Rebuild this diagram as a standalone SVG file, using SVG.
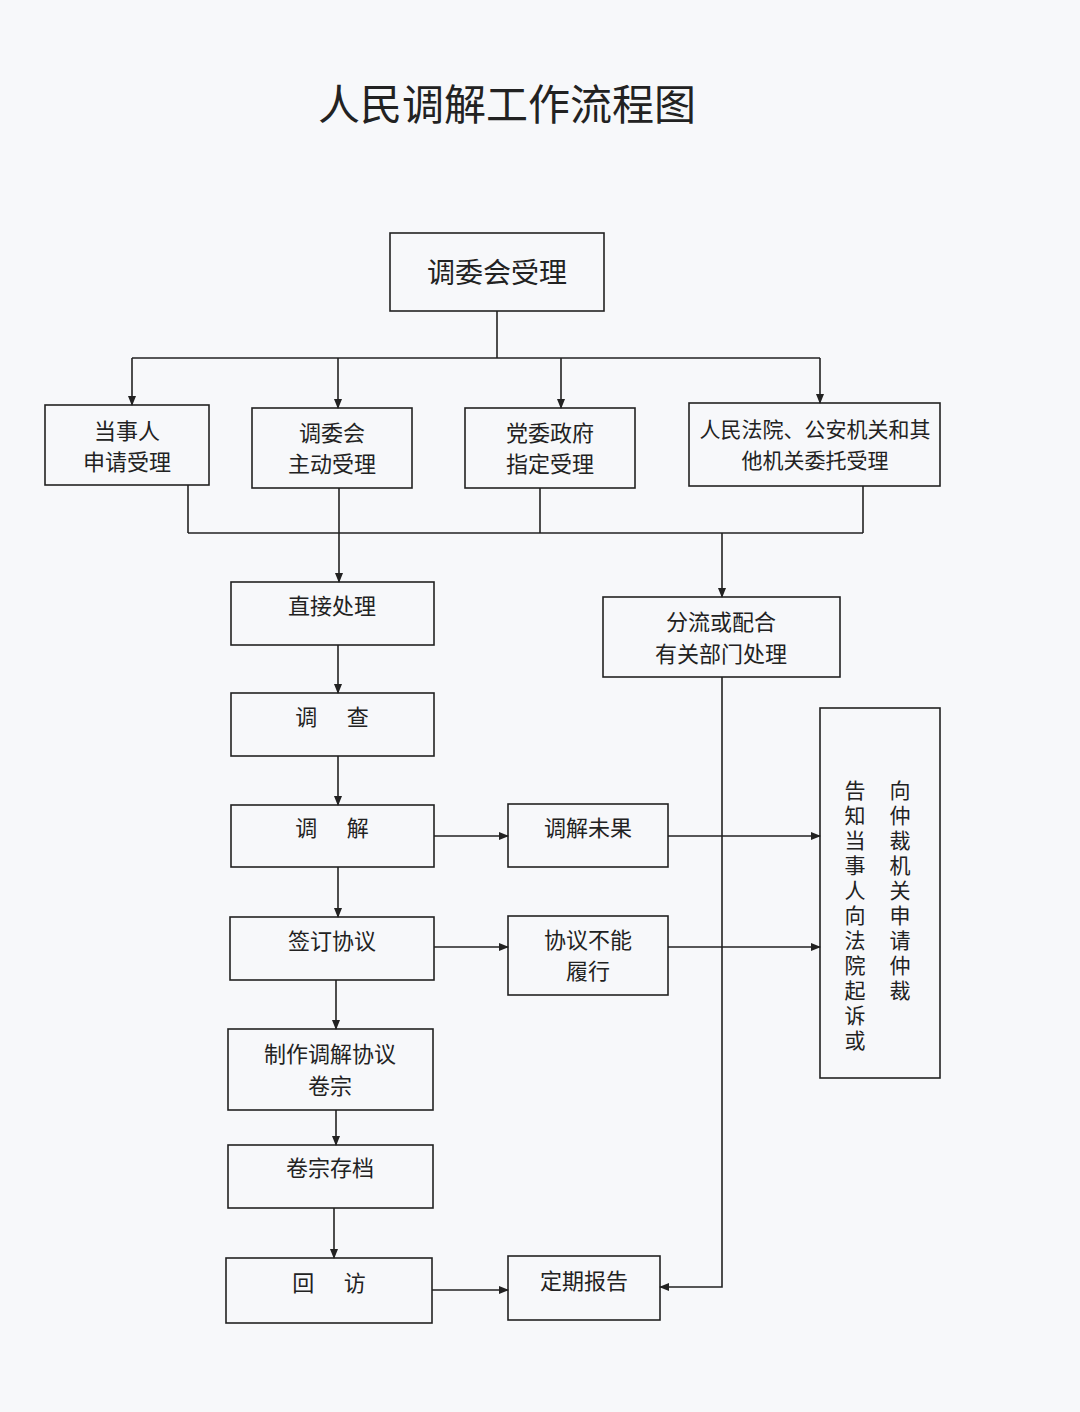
<svg xmlns="http://www.w3.org/2000/svg" width="1080" height="1412" viewBox="0 0 1080 1412">
<defs>
<marker id="ah" markerWidth="10" markerHeight="10" refX="9" refY="5" orient="auto" markerUnits="userSpaceOnUse"><path d="M0,1 L10,5 L0,9 Z" fill="#222"/></marker>
<style>
rect{fill:none;stroke:#222;stroke-width:1.6}
text{font-family:"Noto Sans CJK SC","Liberation Serif",serif;fill:#222;font-size:22px;text-anchor:middle}
.v{font-size:21px;writing-mode:vertical-rl;text-anchor:start;letter-spacing:4px}
.c line,.c polyline{stroke:#222;stroke-width:1.6;fill:none}
.a{marker-end:url(#ah)}
</style>
</defs>
<rect x="0" y="0" width="1080" height="1412" style="fill:#f7f8fa;stroke:none"/>
<text x="507" y="120" style="font-size:42px">人民调解工作流程图</text>
<g id="n0"><rect x="390" y="233" width="214" height="78"/><text x="497" y="283" style="font-size:28px">调委会受理</text></g>
<g id="n1"><rect x="45" y="405" width="164" height="80"/><text x="127" y="439">当事人</text><text x="127" y="470">申请受理</text></g>
<g id="n2"><rect x="252" y="408" width="160" height="80"/><text x="332" y="441">调委会</text><text x="332" y="472">主动受理</text></g>
<g id="n3"><rect x="465" y="408" width="170" height="80"/><text x="550" y="441">党委政府</text><text x="550" y="472">指定受理</text></g>
<g id="n4"><rect x="689" y="403" width="251" height="83"/><text x="815" y="437" style="font-size:21px">人民法院、公安机关和其</text><text x="815" y="468" style="font-size:21px">他机关委托受理</text></g>
<g id="n5"><rect x="231" y="582" width="203" height="63"/><text x="332" y="614">直接处理</text></g>
<g id="n6"><rect x="603" y="597" width="237" height="80"/><text x="721" y="630">分流或配合</text><text x="721" y="662">有关部门处理</text></g>
<g id="n7"><rect x="231" y="693" width="203" height="63"/><text x="332" y="725" xml:space="preserve">调      查</text></g>
<g id="n8"><rect x="231" y="805" width="203" height="62"/><text x="332" y="836" xml:space="preserve">调      解</text></g>
<g id="n9"><rect x="508" y="804" width="160" height="63"/><text x="588" y="836">调解未果</text></g>
<g id="n10"><rect x="230" y="917" width="204" height="63"/><text x="332" y="949">签订协议</text></g>
<g id="n11"><rect x="508" y="916" width="160" height="79"/><text x="588" y="948">协议不能</text><text x="588" y="979">履行</text></g>
<g id="n12"><rect x="820" y="708" width="120" height="370"/>
<text class="v" x="900" y="780">向仲裁机关申请仲裁</text>
<text class="v" x="855" y="780">告知当事人向法院起诉或</text></g>
<g id="n13"><rect x="228" y="1029" width="205" height="81"/><text x="330" y="1062">制作调解协议</text><text x="330" y="1094">卷宗</text></g>
<g id="n14"><rect x="228" y="1145" width="205" height="63"/><text x="330" y="1176">卷宗存档</text></g>
<g id="n15"><rect x="226" y="1258" width="206" height="65"/><text x="329" y="1291" xml:space="preserve">回      访</text></g>
<g id="n16"><rect x="508" y="1256" width="152" height="64"/><text x="584" y="1289">定期报告</text></g>
<g class="c" id="connectors">
<line x1="497" y1="311" x2="497" y2="358"/>
<line x1="132" y1="358" x2="820" y2="358"/>
<line class="a" x1="132" y1="358" x2="132" y2="405"/>
<line class="a" x1="338" y1="358" x2="338" y2="408"/>
<line class="a" x1="561" y1="358" x2="561" y2="408"/>
<line class="a" x1="820" y1="358" x2="820" y2="403"/>
<line x1="188" y1="485" x2="188" y2="533"/>
<line x1="540" y1="488" x2="540" y2="533"/>
<line x1="863" y1="486" x2="863" y2="533"/>
<line x1="188" y1="533" x2="863" y2="533"/>
<line class="a" x1="339" y1="488" x2="339" y2="582"/>
<line class="a" x1="722" y1="533" x2="722" y2="597"/>
<line class="a" x1="338" y1="645" x2="338" y2="693"/>
<line class="a" x1="338" y1="756" x2="338" y2="805"/>
<line class="a" x1="338" y1="867" x2="338" y2="917"/>
<line class="a" x1="336" y1="980" x2="336" y2="1029"/>
<line class="a" x1="336" y1="1110" x2="336" y2="1145"/>
<line class="a" x1="334" y1="1208" x2="334" y2="1258"/>
<line class="a" x1="434" y1="836" x2="508" y2="836"/>
<line class="a" x1="668" y1="836" x2="820" y2="836"/>
<line class="a" x1="434" y1="947" x2="508" y2="947"/>
<line class="a" x1="668" y1="947" x2="820" y2="947"/>
<line class="a" x1="432" y1="1290" x2="508" y2="1290"/>
<polyline class="a" points="722,677 722,1287 660,1287"/>
</g>
</svg>
